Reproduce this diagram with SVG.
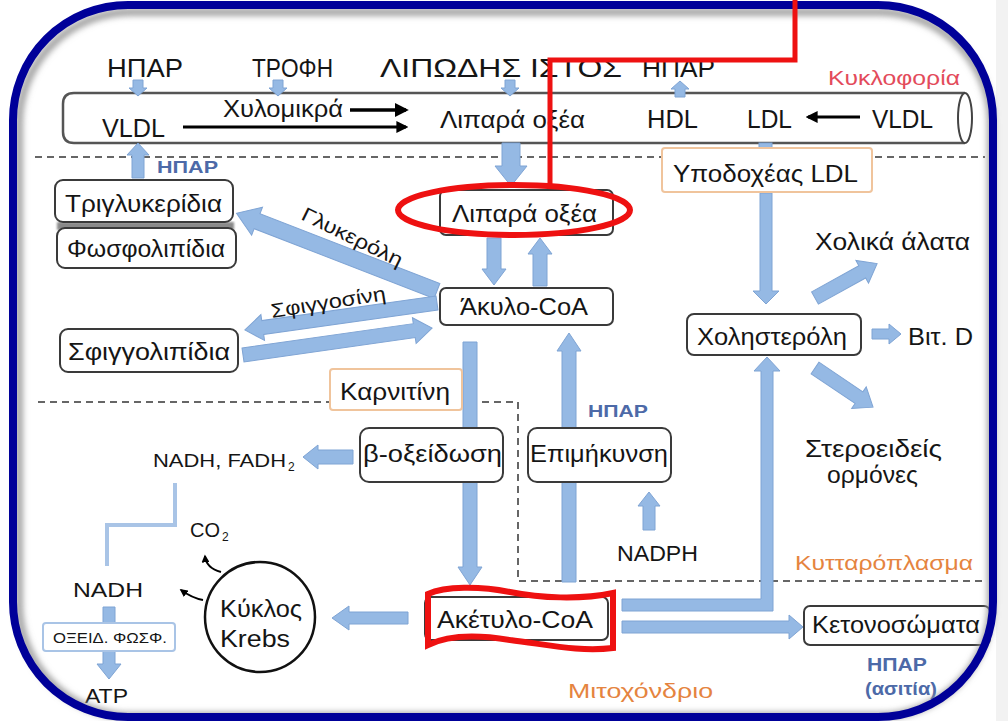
<svg xmlns="http://www.w3.org/2000/svg" width="1008" height="721" viewBox="0 0 1008 721">
<defs>
<style>
.t{font-family:"Liberation Sans","DejaVu Sans",sans-serif;fill:#151515}
.box{fill:#fff;stroke:#3a3a3a;stroke-width:2}
.obox{fill:#fff;stroke:#F0C49C;stroke-width:2}
.ba{fill:#95B9E4;stroke:#7FA4D4;stroke-width:1}
.blue{fill:#4D6AA8;font-weight:bold}
.orange{fill:#E5843F}
.dash{fill:none;stroke:#666;stroke-width:2;stroke-dasharray:7 5}
.red{fill:none;stroke:#EE1111}
.blk{stroke:#000;fill:none}
</style>
<marker id="ah" viewBox="0 0 10 10" refX="8" refY="5" markerWidth="4" markerHeight="4" orient="auto"><path d="M0,0 L10,5 L0,10 z" fill="#000"/></marker>
<filter id="sh" x="-5%" y="-5%" width="110%" height="110%"><feGaussianBlur stdDeviation="3"/></filter>
<filter id="bs" x="-10%" y="-10%" width="130%" height="140%"><feGaussianBlur stdDeviation="1.2"/></filter>
</defs>
<rect x="0" y="0" width="1008" height="721" fill="#fff"/>
<rect x="996" y="0" width="12" height="721" fill="#F2F2F2"/>

<!-- tube -->
<g id="tube">
<path d="M965 93 H74 Q63 93 63 104 V132 Q63 143 74 143 H965" fill="#fff" stroke="#555" stroke-width="2.5"/>
<ellipse cx="965" cy="118" rx="7" ry="25" fill="#fff" stroke="#444" stroke-width="2"/>
</g>

<path class="dash" d="M35 157 H985"/>
<path class="dash" d="M38 402 H518 V581 H985"/>

<!-- connectors -->
<g id="connectors">
<polygon class="ba" transform="translate(138,80) rotate(90)" points="0,-5 8,-5 8,-9 16,0 8,9 8,5 0,5"/>
<polygon class="ba" transform="translate(278,80) rotate(90)" points="0,-5 8,-5 8,-9 16,0 8,9 8,5 0,5"/>
<polygon class="ba" transform="translate(510,80) rotate(90)" points="0,-5 8,-5 8,-9 16,0 8,9 8,5 0,5"/>
<polygon class="ba" transform="translate(680,97) rotate(-90)" points="0,-5 8,-5 8,-9 16,0 8,9 8,5 0,5"/>
<polygon class="ba" transform="translate(138,178) rotate(-90)" points="0,-6 23,-6 23,-11 35,0 23,11 23,6 0,6"/>
<polygon class="ba" transform="translate(511,143) rotate(90)" points="0,-9 23,-9 23,-16 43,0 23,16 23,9 0,9"/>
<rect class="ba" x="759" y="143" width="13" height="6"/>
<polygon class="ba" transform="translate(494,238) rotate(90)" points="0,-7 31,-7 31,-12 47,0 31,12 31,7 0,7"/>
<polygon class="ba" transform="translate(540,286) rotate(-90)" points="0,-7 32,-7 32,-12 48,0 32,12 32,7 0,7"/>
<polygon class="ba" transform="translate(437,291) rotate(201.2)" points="0,-8 193,-8 193,-15 215,0 193,15 193,8 0,8"/>
<polygon class="ba" transform="translate(437,303) rotate(172)" points="0,-7 176,-7 176,-13 194,0 176,13 176,7 0,7"/>
<polygon class="ba" transform="translate(243,355) rotate(-8.1)" points="0,-7 173,-7 173,-13 191,0 173,13 173,7 0,7"/>
<polygon class="ba" transform="translate(470,342) rotate(90)" points="0,-7 225,-7 225,-12 243,0 225,12 225,7 0,7"/>
<polygon class="ba" transform="translate(569,582) rotate(-90)" points="0,-7 231,-7 231,-12 249,0 231,12 231,7 0,7"/>
<polygon class="ba" transform="translate(353,457) rotate(180)" points="0,-7 35,-7 35,-12 50,0 35,12 35,7 0,7"/>
<polygon class="ba" transform="translate(649,530) rotate(-90)" points="0,-6 24,-6 24,-11 38,0 24,11 24,6 0,6"/>
<polygon class="ba" transform="translate(408,618) rotate(180)" points="0,-6 59,-6 59,-12 76,0 59,12 59,6 0,6"/>
<polygon class="ba" transform="translate(109,607) rotate(90)" points="0,-6 57,-6 57,-12 72,0 57,12 57,6 0,6"/>
<polygon class="ba" points="622,599 761,599 761,371 754,371 767,357 780,371 773,371 773,611 622,611"/>
<polygon class="ba" points="622,621 789,621 789,615 803,627 789,639 789,633 622,633"/>
<polygon class="ba" transform="translate(766,193) rotate(90)" points="0,-6 98,-6 98,-13 111,0 98,13 98,6 0,6"/>
<polygon class="ba" transform="translate(815,298) rotate(-29)" points="0,-7 54,-7 54,-13 71,0 54,13 54,7 0,7"/>
<polygon class="ba" points="872,329 889,329 889,324 901,334 889,344 889,339 872,339"/>
<polygon class="ba" transform="translate(815,368) rotate(34)" points="0,-7 53,-7 53,-13 70,0 53,13 53,7 0,7"/>
<path d="M175 483 V525 H107 V566" fill="none" stroke="#A9C4E6" stroke-width="4"/>
<path class="blk" stroke-width="3.5" d="M350 110 H406" marker-end="url(#ah)"/>
<path class="blk" stroke-width="3" d="M183 127 H406" marker-end="url(#ah)"/>
<path class="blk" stroke-width="3" d="M860 117 H808" marker-end="url(#ah)"/>
<path class="blk" stroke-width="2" d="M221 572 Q206 568 205 556" marker-end="url(#ah)"/>
<path class="blk" stroke-width="2" d="M203 600 Q192 598 181 590" marker-end="url(#ah)"/>
</g>

<!-- tube labels -->
<g id="tube-labels">
<text class="t" x="107" y="77" font-size="26" textLength="76" lengthAdjust="spacingAndGlyphs">ΗΠΑΡ</text>
<text class="t" x="252" y="77" font-size="26" textLength="81" lengthAdjust="spacingAndGlyphs">ΤΡΟΦΗ</text>
<text class="t" x="380" y="77" font-size="26" textLength="242" lengthAdjust="spacingAndGlyphs">ΛΙΠΩΔΗΣ ΙΣΤΟΣ</text>
<text class="t" x="642" y="77" font-size="26" textLength="73" lengthAdjust="spacingAndGlyphs">ΗΠΑΡ</text>
<text class="t" x="828" y="85" font-size="20" textLength="132" lengthAdjust="spacingAndGlyphs" style="fill:#E34B5B">Κυκλοφορία</text>
<text class="t" x="102" y="137" font-size="25" textLength="63" lengthAdjust="spacingAndGlyphs">VLDL</text>
<text class="t" x="223" y="117" font-size="24" textLength="120" lengthAdjust="spacingAndGlyphs">Χυλομικρά</text>
<text class="t" x="440" y="128" font-size="24" textLength="145" lengthAdjust="spacingAndGlyphs">Λιπαρά οξέα</text>
<text class="t" x="647" y="128" font-size="25" textLength="51" lengthAdjust="spacingAndGlyphs">HDL</text>
<text class="t" x="747" y="128" font-size="25" textLength="45" lengthAdjust="spacingAndGlyphs">LDL</text>
<text class="t" x="872" y="128" font-size="25" textLength="61" lengthAdjust="spacingAndGlyphs">VLDL</text>
<text class="t blue" x="157" y="173" font-size="17" textLength="61" lengthAdjust="spacingAndGlyphs">ΗΠΑΡ</text>
</g>

<g id="n-trig"><rect x="57" y="222" width="177" height="8" fill="#8a8a8a" filter="url(#bs)"/><rect class="box" x="55" y="180" width="178" height="42" rx="8"/><text class="t" x="65" y="212" font-size="24" textLength="157" lengthAdjust="spacingAndGlyphs">Τριγλυκερίδια</text></g>
<g id="n-fosf"><rect class="box" x="57" y="228" width="179" height="40" rx="8"/><text class="t" x="67" y="257" font-size="24" textLength="158" lengthAdjust="spacingAndGlyphs">Φωσφολιπίδια</text></g>
<g id="n-sfing"><rect class="box" x="60" y="329" width="178" height="43" rx="8"/><text class="t" x="68" y="360" font-size="24" textLength="162" lengthAdjust="spacingAndGlyphs">Σφιγγολιπίδια</text></g>
<text class="t" font-size="20" transform="translate(300,219) rotate(26)" textLength="110" lengthAdjust="spacingAndGlyphs">Γλυκερόλη</text>
<text class="t" font-size="20" transform="translate(272,318) rotate(-9)" textLength="116" lengthAdjust="spacingAndGlyphs">Σφιγγοσίνη</text>

<g id="n-lipara"><rect class="box" x="440" y="190" width="173" height="45" rx="6"/><text class="t" x="452" y="222" font-size="24" textLength="145" lengthAdjust="spacingAndGlyphs">Λιπαρά οξέα</text></g>
<g id="n-akylo"><rect class="box" x="440" y="288" width="173" height="37" rx="6"/><text class="t" x="460" y="315" font-size="24" textLength="128" lengthAdjust="spacingAndGlyphs">Άκυλο-CoA</text></g>
<g id="n-ypodox"><rect class="obox" x="662" y="148" width="210" height="44" rx="3"/><text class="t" x="673" y="182" font-size="24" textLength="185" lengthAdjust="spacingAndGlyphs">Υποδοχέας LDL</text></g>
<g id="n-chol"><rect class="box" x="687" y="314" width="174" height="41" rx="7"/><text class="t" x="697" y="345" font-size="24" textLength="150" lengthAdjust="spacingAndGlyphs">Χοληστερόλη</text></g>
<g id="n-cholika"><text class="t" x="815" y="250" font-size="24" textLength="155" lengthAdjust="spacingAndGlyphs">Χολικά άλατα</text></g>
<g id="n-vitd"><text class="t" x="908" y="345" font-size="24" textLength="65" lengthAdjust="spacingAndGlyphs">Βιτ. D</text></g>
<g id="n-steroid"><text class="t" x="805" y="457" font-size="24" textLength="137" lengthAdjust="spacingAndGlyphs">Στεροειδείς</text><text class="t" x="827" y="483" font-size="24" textLength="91" lengthAdjust="spacingAndGlyphs">ορμόνες</text></g>
<g id="n-karn"><rect class="obox" x="330" y="369" width="132" height="41" rx="3"/><text class="t" x="340" y="400" font-size="24" textLength="110" lengthAdjust="spacingAndGlyphs">Καρνιτίνη</text></g>
<g id="n-boxid"><rect class="box" x="360" y="428" width="143" height="54" rx="9"/><text class="t" x="363" y="462" font-size="24" textLength="139" lengthAdjust="spacingAndGlyphs">β-οξείδωση</text></g>
<g id="n-epim"><rect class="box" x="528" y="428" width="143" height="54" rx="9"/><text class="t" x="530" y="462" font-size="24" textLength="138" lengthAdjust="spacingAndGlyphs">Επιμήκυνση</text></g>
<text class="t blue" x="588" y="417" font-size="17" textLength="60" lengthAdjust="spacingAndGlyphs">ΗΠΑΡ</text>
<g id="n-nadph"><text class="t" x="617" y="561" font-size="22" textLength="81" lengthAdjust="spacingAndGlyphs">NADPH</text></g>
<text class="t orange" x="795" y="570" font-size="21" textLength="178" lengthAdjust="spacingAndGlyphs">Κυτταρόπλασμα</text>
<g id="n-keton"><rect class="box" x="804" y="606" width="186" height="39" rx="6"/><text class="t" x="812" y="633" font-size="24" textLength="168" lengthAdjust="spacingAndGlyphs">Κετονοσώματα</text></g>
<text class="t blue" x="867" y="671" font-size="19" textLength="60" lengthAdjust="spacingAndGlyphs">ΗΠΑΡ</text>
<text class="t blue" x="865" y="695" font-size="19" textLength="72" lengthAdjust="spacingAndGlyphs">(ασιτία)</text>
<text class="t orange" x="568" y="698" font-size="21" textLength="145" lengthAdjust="spacingAndGlyphs">Μιτοχόνδριο</text>
<g id="n-aketylo"><rect class="box" x="425" y="597" width="183" height="43" rx="6"/><text class="t" x="437" y="628" font-size="24" textLength="156" lengthAdjust="spacingAndGlyphs">Ακέτυλο-CoA</text></g>
<g id="n-nadhfadh"><text class="t" x="153" y="467" font-size="19" textLength="133" lengthAdjust="spacingAndGlyphs">NADH, FADH</text><text class="t" x="288" y="471" font-size="12">2</text></g>
<g id="n-co2"><text class="t" x="190" y="537" font-size="21" textLength="30" lengthAdjust="spacingAndGlyphs">CO</text><text class="t" x="222" y="541" font-size="12">2</text></g>
<g id="n-nadh"><text class="t" x="73" y="597" font-size="21" textLength="70" lengthAdjust="spacingAndGlyphs">NADH</text></g>
<g id="n-oxphos"><rect x="43" y="623" width="132" height="28" rx="3" fill="#fff" stroke="#A9C4E6" stroke-width="2"/><text class="t" x="53" y="643" font-size="14" textLength="114" lengthAdjust="spacingAndGlyphs">ΟΞΕΙΔ. ΦΩΣΦ.</text></g>
<g id="n-atp"><text class="t" x="85" y="703" font-size="21" textLength="43" lengthAdjust="spacingAndGlyphs">ATP</text></g>
<g id="n-krebs"><circle cx="260" cy="617" r="55" fill="#fff" stroke="#111" stroke-width="2.5"/><text class="t" x="220" y="617" font-size="23" textLength="82" lengthAdjust="spacingAndGlyphs">Κύκλος</text><text class="t" x="220" y="647" font-size="23" textLength="70" lengthAdjust="spacingAndGlyphs">Krebs</text></g>

<!-- frame -->
<g id="frame">
<rect x="19" y="12" width="972" height="704" rx="112" fill="none" stroke="#9a9a9a" stroke-width="7" filter="url(#sh)"/>
<rect x="13" y="5" width="980" height="712" rx="115" fill="none" stroke="#000099" stroke-width="8"/>
</g>

<!-- red annotations -->
<g id="annotations">
<path class="red" stroke-width="5" d="M795 0 V60 H550 V187"/>
<ellipse class="red" stroke-width="6" cx="514" cy="210" rx="116" ry="25"/>
<path class="red" stroke-width="6" d="M428 594 C445 586 480 586 510 592 C540 598 580 600 613 593 L613 648 C580 652 550 645 510 640 C480 635 450 634 428 645 Z"/>
</g>
</svg>
